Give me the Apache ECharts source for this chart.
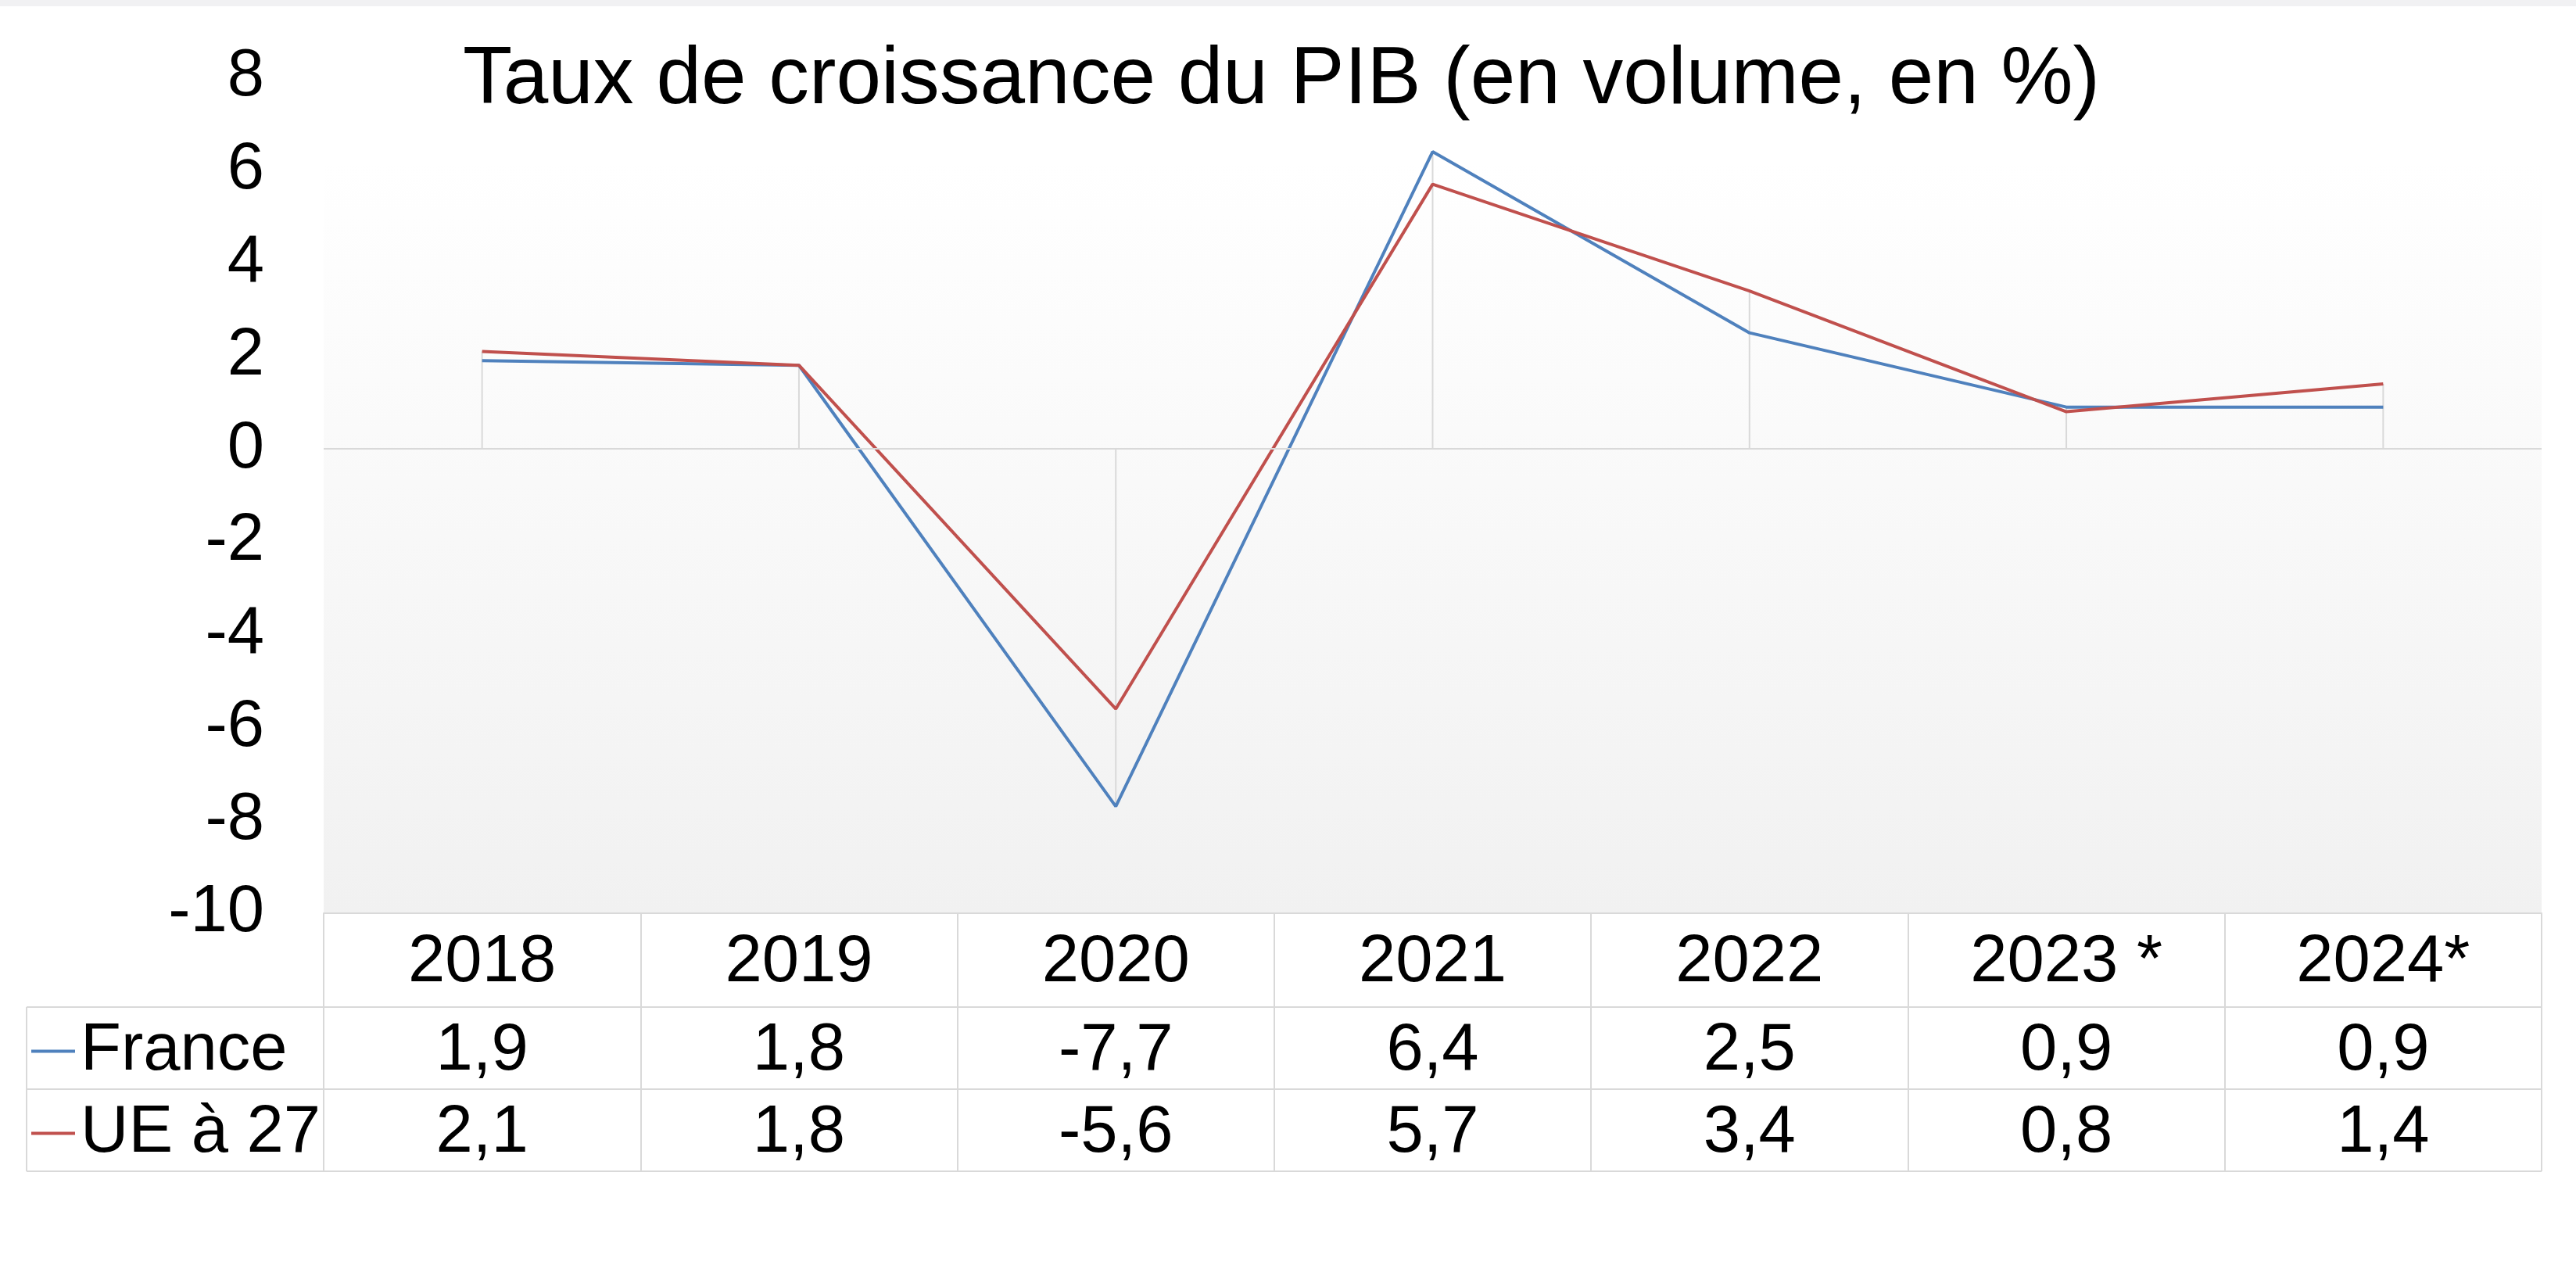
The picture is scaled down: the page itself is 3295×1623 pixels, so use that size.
<!DOCTYPE html>
<html>
<head>
<meta charset="utf-8">
<script src="https://cdn.jsdelivr.net/npm/echarts@6/dist/echarts.min.js"></script>
<style>
  html, body { margin: 0; padding: 0; background: #ffffff; }
  #band { position: absolute; left: 0; top: 0; width: 3295px; height: 8px; background: #f1f1f3; }
  #chart { position: absolute; left: 0; top: 0; width: 3295px; height: 1623px; }
</style>
</head>
<body>
<div id="chart"></div>
<div id="band"></div>
<script>
const titleText = 'Taux de croissance du PIB (en volume, en %)';
const categories = ['2018', '2019', '2020', '2021', '2022', '2023 *', '2024*'];
const france = [1.9, 1.8, -7.7, 6.4, 2.5, 0.9, 0.9];
const ue27 = [2.1, 1.8, -5.6, 5.7, 3.4, 0.8, 1.4];
const seriesNames = ['France', 'UE à 27'];
const yMin = -10, yMax = 8, yStep = 2;

const W = 3295, H = 1623;
const gridLeft = 414, gridRight = 44, gridTop = 99, gridBottom = 455;
const axisY = H - gridBottom;
const headerH = 120, rowH = 105;
const tableLeft = 34;
const border = '#d9d9d9';
const font = 'Liberation Sans, Arial, sans-serif';

const fmt = v => String(v).replace('.', ',');
// drop lines: the point farthest from zero at each category
const dropLine = categories.map((c, i) => Math.abs(france[i]) >= Math.abs(ue27[i]) ? france[i] : ue27[i]);

const chart = echarts.init(document.getElementById('chart'), null, { renderer: 'canvas' });

const gridRightX = W - gridRight;
const rowLines = [axisY + headerH, axisY + headerH + rowH, axisY + headerH + 2 * rowH];

chart.setOption({
  animation: false,
  backgroundColor: '#ffffff',
  textStyle: { fontFamily: font, color: '#000' },
  title: {
    text: titleText,
    left: 592,
    top: 51,
    padding: 0,
    textStyle: { fontFamily: font, fontSize: 103.5, fontWeight: 'normal', color: '#000' }
  },
  legend: {
    data: seriesNames,
    orient: 'vertical',
    left: 40,
    top: axisY + headerH + 4,
    padding: 0,
    itemGap: 0,
    icon: 'rect',
    itemWidth: 56,
    itemHeight: 4,
    selectedMode: false,
    textStyle: { fontFamily: font, fontSize: 85, color: '#000', lineHeight: 105, padding: [0, 0, 0, 2] }
  },
  grid: {
    left: gridLeft, right: gridRight, top: gridTop, bottom: gridBottom,
    show: true,
    borderWidth: 0,
    backgroundColor: new echarts.graphic.LinearGradient(0, 0, 0, 1, [
      { offset: 0, color: '#ffffff' },
      { offset: 0.1, color: '#ffffff' },
      { offset: 1, color: '#f1f1f1' }
    ])
  },
  xAxis: {
    type: 'category',
    data: categories,
    boundaryGap: true,
    position: 'bottom',
    axisLine: { onZero: false, lineStyle: { color: border, width: 2 } },
    axisTick: { show: true, interval: 0, length: headerH + 2 * rowH, lineStyle: { color: border, width: 2 } },
    splitLine: { show: false },
    axisLabel: {
      interval: 0,
      margin: 4,
      formatter: (value, idx) => '{y|' + value + '}\n{v|' + fmt(france[idx]) + '}\n{v|' + fmt(ue27[idx]) + '}',
      rich: {
        y: { fontFamily: font, fontSize: 85, lineHeight: headerH, color: '#000' },
        v: { fontFamily: font, fontSize: 85, lineHeight: rowH, color: '#000' }
      }
    }
  },
  yAxis: {
    type: 'value',
    min: yMin, max: yMax, interval: yStep,
    axisLine: { show: false },
    axisTick: { show: false },
    splitLine: { show: false },
    axisLabel: { fontFamily: font, fontSize: 85, color: '#000', margin: 76, padding: [6, 0, 0, 0] }
  },
  graphic: [
    ...rowLines.map(y => ({
      type: 'line', silent: true, z: 10,
      shape: { x1: tableLeft, y1: y, x2: gridRightX, y2: y },
      style: { stroke: border, lineWidth: 2 }
    })),
    {
      type: 'line', silent: true, z: 10,
      shape: { x1: tableLeft, y1: rowLines[0], x2: tableLeft, y2: rowLines[2] },
      style: { stroke: border, lineWidth: 2 }
    }
  ],
  series: [
    {
      name: 'drop',
      type: 'bar',
      data: dropLine,
      barWidth: 2,
      silent: true,
      z: 1,
      itemStyle: { color: border },
      markLine: {
        silent: true,
        symbol: 'none',
        label: { show: false },
        lineStyle: { color: border, type: 'solid', width: 2 },
        data: [{ yAxis: 0 }]
      }
    },
    {
      name: seriesNames[0],
      type: 'line',
      data: france,
      showSymbol: false,
      symbol: 'none',
      z: 3,
      lineStyle: { color: '#4f81bd', width: 4 },
      itemStyle: { color: '#4f81bd' }
    },
    {
      name: seriesNames[1],
      type: 'line',
      data: ue27,
      showSymbol: false,
      symbol: 'none',
      z: 4,
      lineStyle: { color: '#c0504d', width: 4 },
      itemStyle: { color: '#c0504d' }
    }
  ]
});
</script>
</body>
</html>
